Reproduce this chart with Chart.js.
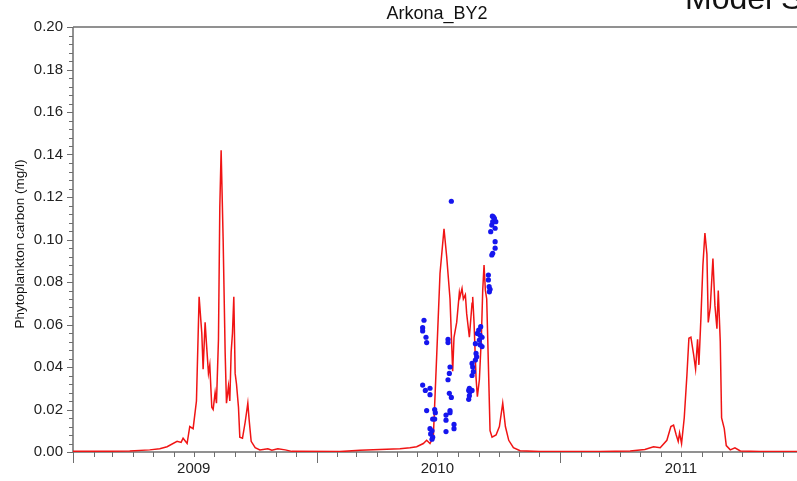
<!DOCTYPE html>
<html>
<head>
<meta charset="utf-8">
<script src="https://cdn.jsdelivr.net/npm/chart.js@4/dist/chart.umd.min.js"></script>
<style>
  html, body { margin: 0; padding: 0; background: #fff; }
  #wrap { width: 797px; height: 481px; }
</style>
</head>
<body>
<div id="wrap"><canvas id="phytoChart" width="797" height="481"></canvas></div>
<script>
// days since 2009-01-01
const modelDay = [
  0, 40, 85, 115, 130, 141, 156, 162, 165, 171, 175, 180, 185, 189, 193, 195, 198, 200, 203, 205,
  208, 210, 213, 215, 218, 220, 222, 225, 228, 230, 233, 235, 237, 239, 241, 243, 245, 248, 250, 254,
  258, 262, 264, 267, 273, 280, 292, 298, 307, 318, 328, 400, 430, 460, 490, 505, 515, 525, 530, 535,
  540, 545, 550, 556, 560, 565, 569, 571, 575, 579, 580, 583, 585, 588, 590, 594, 598, 599, 601, 604,
  606, 609, 612, 614, 616, 618, 620, 623, 625, 628, 634, 639, 644, 648, 653, 660, 670, 700, 790, 835,
  857, 870, 880, 890, 896, 900, 904, 907, 909, 912, 916, 920, 923, 926, 930, 933, 936, 938, 941, 944,
  947, 950, 952, 955, 959, 962, 965, 967, 970, 972, 976, 979, 985, 992, 1000, 1030, 1085
];
const modelCarbon = [
  0.0003, 0.0003, 0.0005, 0.001, 0.0015, 0.0025, 0.005, 0.0045, 0.0065, 0.004, 0.012, 0.011, 0.024, 0.073, 0.056, 0.039, 0.061, 0.051, 0.037, 0.041,
  0.021, 0.020, 0.028, 0.023, 0.053, 0.115, 0.142, 0.100, 0.047, 0.023, 0.031, 0.024, 0.047, 0.056, 0.073, 0.037, 0.032, 0.021, 0.007, 0.0065,
  0.014, 0.023, 0.015, 0.005, 0.002, 0.001, 0.0015, 0.0008, 0.0015, 0.001, 0.0003, 0.0002, 0.0008, 0.0012, 0.0015, 0.002, 0.0025, 0.004, 0.0055, 0.004,
  0.007, 0.045, 0.084, 0.105, 0.092, 0.072, 0.038, 0.054, 0.061, 0.075, 0.073, 0.077, 0.072, 0.074, 0.065, 0.054, 0.070, 0.073, 0.061, 0.035,
  0.026, 0.034, 0.054, 0.076, 0.088, 0.076, 0.072, 0.035, 0.010, 0.007, 0.008, 0.012, 0.023, 0.012, 0.0055, 0.002, 0.0006, 0.0002, 0.0002, 0.0005,
  0.0012, 0.0025, 0.002, 0.0055, 0.012, 0.0127, 0.008, 0.005, 0.009, 0.004, 0.016, 0.036, 0.0535, 0.054, 0.046, 0.039, 0.053, 0.041, 0.063, 0.088,
  0.103, 0.093, 0.061, 0.068, 0.091, 0.069, 0.058, 0.076, 0.052, 0.016, 0.011, 0.003, 0.001, 0.002, 0.0005, 0.0002, 0.0002
];

// measured samples
const obsDay = [
  526, 524, 524, 529, 530, 524, 528, 535, 535, 530, 542, 543, 539, 542, 535, 538, 536, 539, 538,
  567, 562, 562, 565, 564, 562, 564, 567, 565, 565, 559, 559, 571, 571, 559,
  593, 594, 595, 598, 593, 598, 599, 600, 598, 603, 604, 605, 603, 606, 608, 610, 611, 613, 609, 613, 594, 610,
  622.5, 622.5, 623.6, 625, 624, 627.6, 629, 632.6, 632.6, 626, 627.6, 629, 630, 631.5, 633.6, 632.6, 628.5
];
const obsCarbon = [
  0.062, 0.0585, 0.057, 0.054, 0.0515, 0.0315, 0.029, 0.030, 0.027, 0.0195, 0.020, 0.0185, 0.0155, 0.0155, 0.011, 0.010, 0.0085, 0.007, 0.006,
  0.118, 0.053, 0.0515, 0.040, 0.037, 0.034, 0.0276, 0.0257, 0.0195, 0.0185, 0.0174, 0.015, 0.013, 0.011, 0.0096,
  0.029, 0.030, 0.0284, 0.029, 0.0248, 0.0417, 0.040, 0.0378, 0.036, 0.051, 0.0464, 0.0448, 0.0433, 0.0558, 0.0574, 0.055, 0.059, 0.054, 0.0527, 0.0496, 0.0265, 0.0505,
  0.0833, 0.081, 0.0778, 0.0766, 0.0754, 0.0927, 0.0935, 0.0959, 0.099, 0.1037, 0.1068, 0.1084, 0.1107, 0.110, 0.1084, 0.1053, 0.111
];

const years = [2009, 2010, 2011];
const yearLabels = ['2009', '2010', '2011'];

const dayOf = (y, m, d) => (Date.UTC(y, m, d) - Date.UTC(2009, 0, 1)) / 86400000;
const xMax = 1085;

const axisColor = '#6e6e6e';
const textFont = '"Liberation Sans", Arial, sans-serif';

// axis lines, frame top and the small tick marks
const axisDecor = {
  id: 'axisDecor',
  beforeDatasetsDraw(chart) {
    const { ctx, chartArea: a, scales: { x, y } } = chart;
    ctx.save();
    ctx.strokeStyle = axisColor;
    ctx.lineWidth = 1.5;
    ctx.beginPath();
    ctx.moveTo(a.left, a.top); ctx.lineTo(a.right, a.top);
    ctx.moveTo(a.left, a.top); ctx.lineTo(a.left, a.bottom);
    ctx.moveTo(a.left, a.bottom); ctx.lineTo(a.right, a.bottom);
    ctx.stroke();

    ctx.lineWidth = 1;
    ctx.beginPath();
    for (let i = 0; i <= 50; i++) {
      const py = Math.round(y.getPixelForValue(i * 0.004)) + 0.5;
      const len = i % 5 === 0 ? 6 : 4;
      ctx.moveTo(a.left - len, py); ctx.lineTo(a.left, py);
    }
    for (let yr = 2009; yr <= 2012; yr++) {
      for (let m = 0; m < 12; m++) {
        const d = dayOf(yr, m, 1);
        if (d > xMax) break;
        const px = Math.round(x.getPixelForValue(d)) + 0.5;
        const len = m === 0 ? 11 : 5;
        ctx.moveTo(px, a.bottom); ctx.lineTo(px, a.bottom + len);
      }
    }
    ctx.stroke();
    ctx.restore();
  },
  afterDraw(chart) {
    const { ctx } = chart;
    ctx.save();
    ctx.fillStyle = '#111';
    ctx.textAlign = 'center';
    ctx.textBaseline = 'alphabetic';
    ctx.font = '18px ' + textFont;
    ctx.fillText('Arkona_BY2', 437, 19);

    ctx.textAlign = 'left';
    ctx.font = '32px ' + textFont;
    ctx.fillText('Model S', 685, 9);

    ctx.font = '13.5px ' + textFont;
    ctx.textAlign = 'center';
    ctx.textBaseline = 'middle';
    ctx.translate(20, 244);
    ctx.rotate(-Math.PI / 2);
    ctx.fillText('Phytoplankton carbon (mg/l)', 0, 0);
    ctx.restore();
  }
};

const ctx = document.getElementById('phytoChart').getContext('2d');

new Chart(ctx, {
  type: 'scatter',
  data: {
    datasets: [
      {
        label: 'Model',
        data: modelDay.map((d, i) => ({ x: d, y: modelCarbon[i] })),
        showLine: true,
        borderColor: '#f01414',
        borderWidth: 1.5,
        pointRadius: 0,
        tension: 0,
        order: 2
      },
      {
        label: 'Observed',
        data: obsDay.map((d, i) => ({ x: d, y: obsCarbon[i] })),
        backgroundColor: '#1616ee',
        borderWidth: 0,
        pointRadius: 2.6,
        order: 1
      }
    ]
  },
  options: {
    responsive: false,
    animation: false,
    layout: { autoPadding: false, padding: { top: 27, left: 0, right: 0, bottom: 0 } },
    plugins: {
      legend: { display: false },
      tooltip: { enabled: false }
    },
    scales: {
      x: {
        type: 'linear',
        min: 0,
        max: xMax,
        grid: { display: false, drawTicks: false },
        border: { display: false },
        afterBuildTicks: (scale) => {
          scale.ticks = years.map(yr => ({ value: dayOf(yr, 6, 1) }));
        },
        afterFit: (scale) => {
          scale.height = 29;
          scale.paddingLeft = 0;
          scale.paddingRight = 0;
        },
        ticks: {
          autoSkip: false,
          maxRotation: 0,
          padding: 8,
          color: '#222',
          font: { family: textFont, size: 15 },
          callback: (v, i) => yearLabels[i]
        }
      },
      y: {
        min: 0,
        max: 0.2,
        grid: { display: false, drawTicks: false },
        border: { display: false },
        afterFit: (scale) => { scale.width = 73; },
        ticks: {
          stepSize: 0.02,
          padding: 10,
          color: '#222',
          font: { family: textFont, size: 15 },
          callback: (v) => v.toFixed(2)
        }
      }
    }
  },
  plugins: [axisDecor]
});
</script>
</body>
</html>
